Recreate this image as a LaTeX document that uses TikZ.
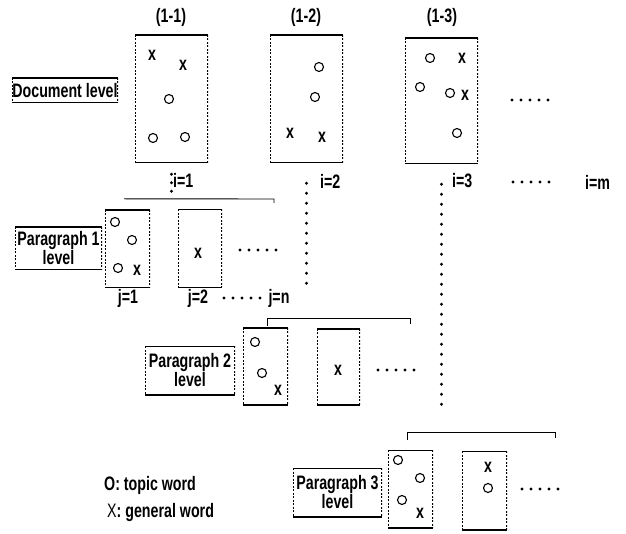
\documentclass[tikz,border=0pt]{standalone}
\usepackage{fontspec}
\setmainfont{Liberation Sans}[FakeStretch=0.73]
\usetikzlibrary{positioning}

% five dots in a row, starting at (#1,#2)
\newcommand{\rowdots}[2]{\foreach \k in {0,...,4} \fill (#1+\k*9,#2) circle (1.7);}

\begin{document}
\begin{tikzpicture}[x=1pt,y=-1pt,
  lbl/.style={font=\fontsize{19.5}{19}\selectfont\bfseries, inner sep=0pt},
  sides/.style={inner sep=0pt, path picture={
    \draw[line width=1.8pt] (path picture bounding box.north west) -- (path picture bounding box.north east)
      (path picture bounding box.south west) -- (path picture bounding box.south east);
    \draw[line width=1.4pt, dash pattern=on 2pt off 1.5pt] (path picture bounding box.north west) -- (path picture bounding box.south west)
      (path picture bounding box.north east) -- (path picture bounding box.south east);}},
  docbox/.style={sides, minimum width=73pt, minimum height=128pt},
  parbox/.style={sides, minimum width=45pt, minimum height=78pt},
  lvlbox/.style={lbl, sides, align=center, minimum width=89pt, minimum height=#1},
  tw/.style={circle, draw, line width=1.1pt, minimum size=9pt, inner sep=0pt},
  gw/.style={lbl},
  dotcol/.style={line width=3.3pt, line cap=round, dash pattern=on 0pt off 10pt}]
\useasboundingbox (0,0) rectangle (626,534);

% document level
\node[lvlbox=25pt, minimum width=106pt] (doc) at (65,90.5) {Document level};
\node[docbox] (d1) at (171.5,99) {};
\node[docbox] (d2) at (306.5,99) {};
\node[docbox, minimum height=126pt] (d3) at (441.5,101) {};
\node[lbl] (t1) at (171,17) {(1-1)};
\node[lbl] (t2) at (306,17) {(1-2)};
\node[lbl] (t3) at (442,17) {(1-3)};
\rowdots{512}{100}

\node[lbl, anchor=west] (i1) at (173,180) {i=1};
\node[lbl, anchor=west] (i2) at (320,181) {i=2};
\node[lbl, anchor=west] (i3) at (452,181) {i=3};
\rowdots{513}{182}
\node[lbl, anchor=west] (im) at (585,182) {i=m};

% paragraph levels
\node[lvlbox=43pt, minimum width=87pt] (par1) at (58.5,248.5) {Paragraph 1\\level};
\node[parbox] (p1a) at (127.5,249) {};
\node[parbox, minimum width=44pt] (p1b) at (200,248.5) {};
\rowdots{240}{250}
\node[lbl] (j1) at (128,298) {j=1};
\node[lbl] (j2) at (198,298) {j=2};
\rowdots{224}{298}
\node[lbl] (jn) at (279,298) {j=n};

\node[lvlbox=49pt, minimum width=90pt] (par2) at (190,370.5) {Paragraph 2\\level};
\node[parbox, minimum height=77pt] (p2a) at (265.5,366.5) {};
\node[parbox, minimum width=43pt, minimum height=76pt] (p2b) at (338.5,367) {};
\rowdots{378}{370}

\node[lvlbox=49pt] (par3) at (337.5,492.5) {Paragraph 3\\level};
\node[parbox] (p3a) at (410.5,489) {};
\node[parbox, minimum height=79pt] (p3b) at (484.5,490.5) {};
\rowdots{522}{489}

% words
\foreach \x/\y [count=\n] in {169/99, 153/138, 185/137, 319/67, 315/97, 430/58, 420/87, 450/93, 457/133,
  115/222, 132/240, 118/268, 255/342, 262/373, 398/460, 420/478, 402/500, 488/488}
  \node[tw] (o\n) at (\x,\y) {};
\foreach \x/\y [count=\n] in {152/55, 183/65, 290/133, 322/137, 462/58, 465/95,
  137/270, 198/253, 278/390, 338/370, 420/513, 488/467}
  \node[gw] (x\n) at (\x,\y) {x};

% brackets and dotted links
\coordinate (b1) at (171.5,199);
\draw[line width=0.9pt] (p1a.north) ++(-3.5,-11) -- (274,199) -- ++(0,4);
\draw[line width=0.9pt] ([xshift=1.5pt]p2a.north) ++(0,-2) -- ++(0,-7) -| (410,324);
\draw[line width=0.9pt] ([xshift=-3.5pt]p3a.north) ++(0,-10) -- ++(0,-7) -| (555,438);
\coordinate (c2) at (306.5,288);
\coordinate (c3) at (441.5,406);
\draw[dotcol, dash pattern=on 0pt off 8.5pt, shorten <=11pt] (d1.south) -- (b1);
\draw[dotcol, shorten <=20pt] (d2.south) -- (c2);
\draw[dotcol, shorten <=20pt] (d3.south) -- (c3);

% legend
\node[lbl, anchor=west] (lgo) at (104,485) {O: topic word};
\node[lbl, anchor=west] (lgx) at (107,512) {{\mdseries X}: general word};
\end{tikzpicture}
\end{document}
